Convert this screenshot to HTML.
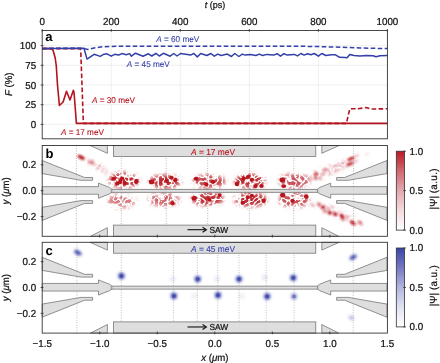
<!DOCTYPE html>
<html><head><meta charset="utf-8"><style>
html,body{margin:0;padding:0;background:#fff;width:440px;height:363px;overflow:hidden}
svg{display:block;filter:blur(0.3px)} text{text-rendering:geometricPrecision}
</style></head><body>
<svg width="440" height="363" viewBox="0 0 440 363" font-family='"Liberation Sans", sans-serif'><defs><filter id="bl1" x="-50%" y="-50%" width="200%" height="200%"><feGaussianBlur stdDeviation="0.75"/></filter><filter id="bl2" x="-50%" y="-50%" width="200%" height="200%"><feGaussianBlur stdDeviation="1.4"/></filter><filter id="bl4" x="-50%" y="-50%" width="200%" height="200%"><feGaussianBlur stdDeviation="0.9"/></filter><filter id="bl3" x="-50%" y="-50%" width="200%" height="200%"><feGaussianBlur stdDeviation="2.2"/></filter><linearGradient id="cbr" x1="0" y1="1" x2="0" y2="0"><stop offset="0" stop-color="#ffffff"/><stop offset="0.25" stop-color="#f3dadc"/><stop offset="0.5" stop-color="#e3a9ae"/><stop offset="0.75" stop-color="#d06770"/><stop offset="1" stop-color="#bb1825"/></linearGradient><linearGradient id="cbb" x1="0" y1="1" x2="0" y2="0"><stop offset="0" stop-color="#ffffff"/><stop offset="0.25" stop-color="#e0e2f2"/><stop offset="0.5" stop-color="#b2b6de"/><stop offset="0.75" stop-color="#7479c2"/><stop offset="1" stop-color="#3a44a8"/></linearGradient><filter id="env" x="-50%" y="-50%" width="200%" height="200%"><feGaussianBlur stdDeviation="2.0"/></filter><filter id="spk" x="0" y="0" width="440" height="363" filterUnits="userSpaceOnUse"><feTurbulence type="turbulence" baseFrequency="0.22" numOctaves="1" seed="4" result="t"/><feColorMatrix in="t" type="matrix" values="0 0 0 0 0  0 0 0 0 0  0 0 0 0 0  5.0 0 0 0 -0.28" result="m"/><feGaussianBlur in="m" stdDeviation="0.55" result="m2"/><feComposite in="SourceGraphic" in2="m2" operator="in"/></filter></defs><rect width="440" height="363" fill="#fff"/><line x1="111.24" y1="30.5" x2="111.24" y2="138.8" stroke="#ebebeb" stroke-width="0.8"/><line x1="180.28" y1="30.5" x2="180.28" y2="138.8" stroke="#ebebeb" stroke-width="0.8"/><line x1="249.32" y1="30.5" x2="249.32" y2="138.8" stroke="#ebebeb" stroke-width="0.8"/><line x1="318.36" y1="30.5" x2="318.36" y2="138.8" stroke="#ebebeb" stroke-width="0.8"/><line x1="42.2" y1="124.40" x2="387.4" y2="124.40" stroke="#ebebeb" stroke-width="0.8"/><line x1="42.2" y1="104.70" x2="387.4" y2="104.70" stroke="#ebebeb" stroke-width="0.8"/><line x1="42.2" y1="85.00" x2="387.4" y2="85.00" stroke="#ebebeb" stroke-width="0.8"/><line x1="42.2" y1="65.30" x2="387.4" y2="65.30" stroke="#ebebeb" stroke-width="0.8"/><line x1="42.2" y1="45.60" x2="387.4" y2="45.60" stroke="#ebebeb" stroke-width="0.8"/><polyline points="42.20,48.60 51.50,48.60 53.30,51.00 55.20,58.00 56.30,66.00 57.50,85.00 59.40,105.50 63.10,102.00 66.50,91.30 70.00,100.00 73.40,90.30 74.10,93.00 76.40,123.40 387.40,123.40" fill="none" stroke="#b3141f" stroke-width="1.6" stroke-linejoin="round"/><polyline points="42.20,48.60 80.20,48.60 80.80,52.00 83.40,123.40 346.40,123.40 349.80,108.80 358.00,108.80 366.20,107.60 371.00,109.00 387.40,108.80" fill="none" stroke="#b3141f" stroke-width="1.6" stroke-dasharray="4.6,2.4" stroke-linejoin="round"/><polyline points="42.20,48.40 84.00,48.30 87.00,59.10 94.10,54.30 100.20,56.40 104.00,54.20 107.00,53.80 111.20,56.20 114.60,54.30 118.70,55.00 122.00,53.60 126.20,54.70 129.60,53.60 131.40,56.20 135.50,53.20 143.00,56.20 148.40,53.80 151.80,56.00 155.90,53.30 159.30,56.00 163.40,53.30 170.20,56.20 173.70,53.50 177.10,56.00 180.50,53.50 187.30,54.60 190.50,55.10 193.90,53.50 197.30,56.90 200.70,53.50 206.80,55.50 210.90,53.50 214.30,56.20 217.70,54.10 221.20,55.50 227.30,54.10 231.40,56.50 234.80,53.50 238.90,56.50 242.30,54.10 245.00,55.10 250.50,54.50 255.90,55.50 259.30,54.10 262.70,55.50 266.80,54.40 273.60,55.10 277.10,53.70 280.50,56.20 283.90,53.70 287.30,55.10 294.10,54.40 297.50,55.90 300.90,53.50 304.10,55.10 307.50,53.70 310.90,54.80 314.30,53.50 318.40,56.20 321.80,53.50 325.90,55.50 331.40,54.80 335.50,54.80 339.60,57.30 345.00,57.50 347.10,57.80 349.80,54.50 353.90,55.50 360.00,55.90 366.00,55.60 373.00,55.70 376.00,56.80 380.00,55.70 387.40,55.50" fill="none" stroke="#3440a8" stroke-width="1.5" stroke-linejoin="round"/><polyline points="42.20,48.40 84.00,48.30 87.30,49.50 94.00,48.00 102.30,46.80 116.00,46.20 300.00,46.30 315.00,46.50 340.00,47.20 360.00,48.00 387.40,48.60" fill="none" stroke="#3440a8" stroke-width="1.5" stroke-dasharray="4.6,2.4"/><rect x="42.2" y="30.5" width="345.20" height="108.30" fill="none" stroke="#333" stroke-width="0.9"/><line x1="42.20" y1="29.0" x2="42.20" y2="31.7" stroke="#333" stroke-width="0.9"/><text transform="translate(42.20 24.60) scale(1 1.03)" font-size="9.8" text-anchor="middle" fill="#111" stroke="#111" stroke-width="0.22">0</text><line x1="111.24" y1="29.0" x2="111.24" y2="31.7" stroke="#333" stroke-width="0.9"/><text transform="translate(111.24 24.60) scale(1 1.03)" font-size="9.8" text-anchor="middle" fill="#111" stroke="#111" stroke-width="0.22">200</text><line x1="180.28" y1="29.0" x2="180.28" y2="31.7" stroke="#333" stroke-width="0.9"/><text transform="translate(180.28 24.60) scale(1 1.03)" font-size="9.8" text-anchor="middle" fill="#111" stroke="#111" stroke-width="0.22">400</text><line x1="249.32" y1="29.0" x2="249.32" y2="31.7" stroke="#333" stroke-width="0.9"/><text transform="translate(249.32 24.60) scale(1 1.03)" font-size="9.8" text-anchor="middle" fill="#111" stroke="#111" stroke-width="0.22">600</text><line x1="318.36" y1="29.0" x2="318.36" y2="31.7" stroke="#333" stroke-width="0.9"/><text transform="translate(318.36 24.60) scale(1 1.03)" font-size="9.8" text-anchor="middle" fill="#111" stroke="#111" stroke-width="0.22">800</text><line x1="387.40" y1="29.0" x2="387.40" y2="31.7" stroke="#333" stroke-width="0.9"/><text transform="translate(387.40 24.60) scale(1 1.03)" font-size="9.8" text-anchor="middle" fill="#111" stroke="#111" stroke-width="0.22">1000</text><line x1="40.7" y1="124.40" x2="43.400000000000006" y2="124.40" stroke="#333" stroke-width="0.9"/><text transform="translate(36.10 128.10) scale(1 1.03)" font-size="9.8" text-anchor="end" fill="#111" stroke="#111" stroke-width="0.22">0</text><line x1="40.7" y1="104.70" x2="43.400000000000006" y2="104.70" stroke="#333" stroke-width="0.9"/><text transform="translate(36.10 108.40) scale(1 1.03)" font-size="9.8" text-anchor="end" fill="#111" stroke="#111" stroke-width="0.22">25</text><line x1="40.7" y1="85.00" x2="43.400000000000006" y2="85.00" stroke="#333" stroke-width="0.9"/><text transform="translate(36.10 88.70) scale(1 1.03)" font-size="9.8" text-anchor="end" fill="#111" stroke="#111" stroke-width="0.22">50</text><line x1="40.7" y1="65.30" x2="43.400000000000006" y2="65.30" stroke="#333" stroke-width="0.9"/><text transform="translate(36.10 69.00) scale(1 1.03)" font-size="9.8" text-anchor="end" fill="#111" stroke="#111" stroke-width="0.22">75</text><line x1="40.7" y1="45.60" x2="43.400000000000006" y2="45.60" stroke="#333" stroke-width="0.9"/><text transform="translate(36.10 49.30) scale(1 1.03)" font-size="9.8" text-anchor="end" fill="#111" stroke="#111" stroke-width="0.22">100</text><text transform="translate(214.90 7.60) scale(1 1.03)" font-size="9.0" text-anchor="middle" fill="#111" stroke="#111" stroke-width="0.22"><tspan font-style="italic">t</tspan> (ps)</text><text transform="translate(12.40 84.30) rotate(-90) scale(1 1.03)" font-size="9.6" text-anchor="middle" fill="#111" stroke="#111" stroke-width="0.22"><tspan font-style="italic">F</tspan> (%)</text><text transform="translate(45.30 41.40) scale(1 1.0)" font-size="13" text-anchor="start" fill="#000" font-weight="bold">a</text><text transform="translate(156.20 42.40) scale(1 1.03)" font-size="8.2" text-anchor="start" fill="#3a44aa" stroke="#3a44aa" stroke-width="0.1"><tspan font-style="italic">A</tspan> = 60 meV</text><text transform="translate(126.80 67.40) scale(1 1.03)" font-size="8.2" text-anchor="start" fill="#3a44aa" stroke="#3a44aa" stroke-width="0.1"><tspan font-style="italic">A</tspan> = 45 meV</text><text transform="translate(92.00 102.60) scale(1 1.03)" font-size="8.2" text-anchor="start" fill="#b8141f" stroke="#b8141f" stroke-width="0.1"><tspan font-style="italic">A</tspan> = 30 meV</text><text transform="translate(60.90 135.10) scale(1 1.03)" font-size="8.2" text-anchor="start" fill="#b8141f" stroke="#b8141f" stroke-width="0.1"><tspan font-style="italic">A</tspan> = 17 meV</text><line x1="76.40" y1="145.5" x2="76.40" y2="236.3" stroke="#8c8c8c" stroke-width="0.65" stroke-dasharray="0.9,1.6"/><line x1="121.30" y1="145.5" x2="121.30" y2="236.3" stroke="#8c8c8c" stroke-width="0.65" stroke-dasharray="0.9,1.6"/><line x1="166.20" y1="145.5" x2="166.20" y2="236.3" stroke="#8c8c8c" stroke-width="0.65" stroke-dasharray="0.9,1.6"/><line x1="207.70" y1="145.5" x2="207.70" y2="236.3" stroke="#8c8c8c" stroke-width="0.65" stroke-dasharray="0.9,1.6"/><line x1="249.40" y1="145.5" x2="249.40" y2="236.3" stroke="#8c8c8c" stroke-width="0.65" stroke-dasharray="0.9,1.6"/><line x1="293.80" y1="145.5" x2="293.80" y2="236.3" stroke="#8c8c8c" stroke-width="0.65" stroke-dasharray="0.9,1.6"/><line x1="353.50" y1="145.5" x2="353.50" y2="236.3" stroke="#8c8c8c" stroke-width="0.65" stroke-dasharray="0.9,1.6"/><g filter="url(#spk)" opacity="0.9"><g filter="url(#env)" fill="#b8141f"><ellipse cx="124" cy="180" rx="15" ry="7.5" fill-opacity="1.0"/><ellipse cx="121.5" cy="201" rx="14" ry="7" fill-opacity="0.62"/><ellipse cx="165" cy="181.5" rx="16" ry="6.5" fill-opacity="1.0"/><ellipse cx="164" cy="199.5" rx="15.5" ry="6.5" fill-opacity="0.72"/><ellipse cx="209" cy="181.5" rx="16.5" ry="6.5" fill-opacity="0.9"/><ellipse cx="207.5" cy="199" rx="16" ry="6.5" fill-opacity="1.0"/><ellipse cx="250" cy="181" rx="15.5" ry="7" fill-opacity="1.0"/><ellipse cx="250.5" cy="199.5" rx="16" ry="7" fill-opacity="1.0"/><ellipse cx="294" cy="181" rx="15" ry="7" fill-opacity="0.8"/><ellipse cx="294" cy="200" rx="15" ry="7.5" fill-opacity="0.85"/><ellipse cx="328" cy="171" rx="27" ry="5.5" fill-opacity="0.2" transform="rotate(-22 328 171)"/><ellipse cx="336" cy="213" rx="27" ry="4.5" fill-opacity="0.15" transform="rotate(24 336 213)"/><ellipse cx="97" cy="166" rx="13" ry="3" fill-opacity="0.22" transform="rotate(30 97 166)"/></g></g><g filter="url(#bl4)" fill="#b8141f"><ellipse cx="81.2" cy="157.3" rx="3.96" ry="1.87" fill-opacity="1.00" transform="rotate(27 81.2 157.3)"/><ellipse cx="91.5" cy="162.5" rx="3.30" ry="1.87" fill-opacity="0.55" transform="rotate(25 91.5 162.5)"/><ellipse cx="98.8" cy="167" rx="1.32" ry="2.64" fill-opacity="0.22" transform="rotate(25 98.8 167)"/><ellipse cx="103" cy="169.4" rx="1.32" ry="2.64" fill-opacity="0.20" transform="rotate(25 103 169.4)"/><ellipse cx="106.5" cy="172" rx="1.32" ry="2.64" fill-opacity="0.18" transform="rotate(25 106.5 172)"/><ellipse cx="315.9" cy="174.3" rx="2.20" ry="1.54" fill-opacity="0.62" transform="rotate(-20 315.9 174.3)"/><ellipse cx="316.9" cy="178.4" rx="1.98" ry="1.43" fill-opacity="0.32" transform="rotate(-20 316.9 178.4)"/><ellipse cx="350.9" cy="158.8" rx="3.63" ry="1.38" fill-opacity="1.00" transform="rotate(-22 350.9 158.8)"/><ellipse cx="350.1" cy="163.9" rx="3.63" ry="1.38" fill-opacity="0.95" transform="rotate(-22 350.1 163.9)"/><ellipse cx="356.4" cy="156.0" rx="3.08" ry="1.10" fill-opacity="0.30" transform="rotate(-22 356.4 156.0)"/><ellipse cx="355.6" cy="161.5" rx="3.08" ry="1.10" fill-opacity="0.30" transform="rotate(-22 355.6 161.5)"/><ellipse cx="342.9" cy="163.1" rx="2.42" ry="1.10" fill-opacity="0.28" transform="rotate(-22 342.9 163.1)"/><ellipse cx="343.7" cy="167.9" rx="2.42" ry="1.10" fill-opacity="0.25" transform="rotate(-22 343.7 167.9)"/><ellipse cx="334.2" cy="166.3" rx="2.42" ry="1.10" fill-opacity="0.30" transform="rotate(-22 334.2 166.3)"/><ellipse cx="335.8" cy="171.8" rx="2.42" ry="1.10" fill-opacity="0.30" transform="rotate(-22 335.8 171.8)"/><ellipse cx="325.4" cy="169.5" rx="2.42" ry="1.21" fill-opacity="0.50" transform="rotate(-22 325.4 169.5)"/><ellipse cx="323.0" cy="174.2" rx="2.42" ry="1.21" fill-opacity="0.50" transform="rotate(-22 323.0 174.2)"/><ellipse cx="315.9" cy="173.4" rx="2.20" ry="1.32" fill-opacity="0.55" transform="rotate(-22 315.9 173.4)"/><ellipse cx="315.1" cy="178.2" rx="2.20" ry="1.32" fill-opacity="0.55" transform="rotate(-22 315.1 178.2)"/><ellipse cx="320.7" cy="179.0" rx="1.98" ry="1.10" fill-opacity="0.30" transform="rotate(-22 320.7 179.0)"/><ellipse cx="329.4" cy="172.6" rx="2.20" ry="1.10" fill-opacity="0.25" transform="rotate(-22 329.4 172.6)"/><ellipse cx="367" cy="154" rx="2.75" ry="1.32" fill-opacity="0.10" transform="rotate(-22 367 154)"/><ellipse cx="312.7" cy="205.2" rx="1.98" ry="1.54" fill-opacity="0.32" transform="rotate(20 312.7 205.2)"/><ellipse cx="318.9" cy="204.5" rx="2.20" ry="1.65" fill-opacity="0.62" transform="rotate(20 318.9 204.5)"/><ellipse cx="323" cy="207.3" rx="2.09" ry="1.76" fill-opacity="1.00" transform="rotate(20 323 207.3)"/><ellipse cx="325" cy="211.4" rx="1.87" ry="1.54" fill-opacity="0.62" transform="rotate(20 325 211.4)"/><ellipse cx="327.7" cy="208.6" rx="1.76" ry="1.43" fill-opacity="0.32" transform="rotate(20 327.7 208.6)"/><ellipse cx="329.8" cy="212.7" rx="2.09" ry="1.87" fill-opacity="1.00" transform="rotate(20 329.8 212.7)"/><ellipse cx="335.2" cy="214.1" rx="2.09" ry="1.87" fill-opacity="1.00" transform="rotate(20 335.2 214.1)"/><ellipse cx="332.5" cy="207.3" rx="1.76" ry="1.32" fill-opacity="0.32" transform="rotate(20 332.5 207.3)"/><ellipse cx="342.1" cy="216.1" rx="2.86" ry="1.65" fill-opacity="1.00" transform="rotate(35 342.1 216.1)"/><ellipse cx="342.7" cy="218.9" rx="2.20" ry="1.43" fill-opacity="0.62" transform="rotate(35 342.7 218.9)"/><ellipse cx="347.5" cy="217.5" rx="1.98" ry="1.32" fill-opacity="0.32" transform="rotate(30 347.5 217.5)"/><ellipse cx="352.3" cy="222.3" rx="2.64" ry="1.65" fill-opacity="1.00" transform="rotate(25 352.3 222.3)"/><ellipse cx="353.7" cy="224.3" rx="2.20" ry="1.43" fill-opacity="0.62" transform="rotate(25 353.7 224.3)"/><ellipse cx="359.8" cy="222.3" rx="2.42" ry="1.43" fill-opacity="0.62" transform="rotate(25 359.8 222.3)"/><ellipse cx="361.2" cy="224.3" rx="2.20" ry="1.32" fill-opacity="0.32" transform="rotate(25 361.2 224.3)"/></g><g filter="url(#bl1)" fill="#b8141f"><ellipse cx="113.8" cy="178.8" rx="2.30" ry="2.07" fill-opacity="1.00"/><ellipse cx="117.4" cy="183.4" rx="2.18" ry="2.18" fill-opacity="1.00"/><ellipse cx="120.4" cy="181.4" rx="1.84" ry="2.30" fill-opacity="1.00"/><ellipse cx="122" cy="178.3" rx="2.07" ry="1.72" fill-opacity="1.00"/><ellipse cx="124.5" cy="182.9" rx="2.07" ry="2.07" fill-opacity="1.00"/><ellipse cx="136.3" cy="181.4" rx="2.30" ry="2.53" fill-opacity="1.00"/><ellipse cx="151.6" cy="181.9" rx="2.76" ry="2.30" fill-opacity="1.00"/><ellipse cx="167" cy="180.8" rx="1.95" ry="2.18" fill-opacity="1.00"/><ellipse cx="171.6" cy="177.8" rx="2.07" ry="1.95" fill-opacity="1.00"/><ellipse cx="175.2" cy="180.3" rx="2.07" ry="2.18" fill-opacity="1.00"/><ellipse cx="172.6" cy="203.3" rx="2.18" ry="2.07" fill-opacity="1.00"/><ellipse cx="196.1" cy="178.8" rx="2.42" ry="1.95" fill-opacity="1.00"/><ellipse cx="206.4" cy="184.4" rx="2.07" ry="2.18" fill-opacity="1.00"/><ellipse cx="213" cy="181.9" rx="2.07" ry="2.07" fill-opacity="1.00"/><ellipse cx="194.1" cy="198.2" rx="2.64" ry="2.30" fill-opacity="1.00"/><ellipse cx="209.4" cy="199.7" rx="2.07" ry="2.07" fill-opacity="1.00"/><ellipse cx="219.7" cy="195.1" rx="2.07" ry="1.95" fill-opacity="1.00"/><ellipse cx="237" cy="183.9" rx="2.30" ry="2.30" fill-opacity="1.00"/><ellipse cx="243.7" cy="178.3" rx="2.18" ry="1.95" fill-opacity="1.00"/><ellipse cx="248.3" cy="176.8" rx="2.30" ry="1.95" fill-opacity="1.00"/><ellipse cx="251.9" cy="179.8" rx="2.18" ry="2.07" fill-opacity="1.00"/><ellipse cx="255.4" cy="186" rx="2.18" ry="1.95" fill-opacity="1.00"/><ellipse cx="261.6" cy="186" rx="2.18" ry="1.95" fill-opacity="1.00"/><ellipse cx="242.7" cy="202.8" rx="2.18" ry="2.07" fill-opacity="1.00"/><ellipse cx="247.8" cy="197.2" rx="2.07" ry="1.95" fill-opacity="1.00"/><ellipse cx="251.9" cy="195.6" rx="2.07" ry="1.95" fill-opacity="1.00"/><ellipse cx="263.6" cy="200.7" rx="2.18" ry="2.18" fill-opacity="1.00"/><ellipse cx="282.2" cy="179.9" rx="2.76" ry="2.30" fill-opacity="1.00"/><ellipse cx="283.7" cy="186.1" rx="2.53" ry="1.84" fill-opacity="1.00"/><ellipse cx="282.7" cy="195.1" rx="2.64" ry="2.30" fill-opacity="1.00"/><ellipse cx="292.4" cy="200.7" rx="2.07" ry="2.07" fill-opacity="1.00"/><ellipse cx="306.2" cy="196.6" rx="2.30" ry="2.30" fill-opacity="1.00"/></g><polygon points="42.20,160.50 84.60,177.50 92.60,177.50 92.60,180.30 81.00,180.30 42.20,173.60" fill="#d9d9d9" fill-opacity="0.88" stroke="#707070" stroke-width="0.75" stroke-linejoin="miter"/><polygon points="42.20,220.40 84.60,203.40 92.60,203.40 92.60,200.60 81.00,200.60 42.20,207.30" fill="#d9d9d9" fill-opacity="0.88" stroke="#707070" stroke-width="0.75" stroke-linejoin="miter"/><polygon points="387.00,160.50 344.60,177.50 336.60,177.50 336.60,180.30 348.20,180.30 387.00,173.60" fill="#d9d9d9" fill-opacity="0.88" stroke="#707070" stroke-width="0.75" stroke-linejoin="miter"/><polygon points="387.00,220.40 344.60,203.40 336.60,203.40 336.60,200.60 348.20,200.60 387.00,207.30" fill="#d9d9d9" fill-opacity="0.88" stroke="#707070" stroke-width="0.75" stroke-linejoin="miter"/><rect x="110" y="189.30" width="209.20" height="3.0" fill="#d9d9d9" fill-opacity="0.88" stroke="#707070" stroke-width="0.75" stroke-linejoin="miter"/><polygon points="42.20,186.65 98.50,186.65 98.50,183.15 109.60,187.45 111.80,189.30 111.80,192.30 109.60,193.85 98.50,198.25 98.50,194.25 42.20,194.25" fill="#d9d9d9" fill-opacity="0.88" stroke="#707070" stroke-width="0.75" stroke-linejoin="miter"/><polygon points="387.00,186.65 330.70,186.65 330.70,183.15 319.60,187.45 317.40,189.30 317.40,192.30 319.60,193.85 330.70,198.25 330.70,194.25 387.00,194.25" fill="#d9d9d9" fill-opacity="0.88" stroke="#707070" stroke-width="0.75" stroke-linejoin="miter"/><rect x="113.4" y="145.50" width="202.40" height="10.9" fill="#d9d9d9" fill-opacity="0.88" stroke="#707070" stroke-width="0.75" stroke-linejoin="miter"/><rect x="113.4" y="225.10" width="202.40" height="11.2" fill="#d9d9d9" fill-opacity="0.88" stroke="#707070" stroke-width="0.75" stroke-linejoin="miter"/><polygon points="90.00,145.50 107.40,145.50 107.40,153.30" fill="#d9d9d9" fill-opacity="0.88" stroke="#707070" stroke-width="0.75" stroke-linejoin="miter"/><polygon points="90.50,236.30 107.40,236.30 107.40,227.70" fill="#d9d9d9" fill-opacity="0.88" stroke="#707070" stroke-width="0.75" stroke-linejoin="miter"/><polygon points="339.20,145.50 321.80,145.50 321.80,153.30" fill="#d9d9d9" fill-opacity="0.88" stroke="#707070" stroke-width="0.75" stroke-linejoin="miter"/><polygon points="338.70,236.30 321.80,236.30 321.80,227.70" fill="#d9d9d9" fill-opacity="0.88" stroke="#707070" stroke-width="0.75" stroke-linejoin="miter"/><text transform="translate(213.00 154.80) scale(1 1.03)" font-size="8.4" text-anchor="middle" fill="#b8141f" stroke="#b8141f" stroke-width="0.1"><tspan font-style="italic">A</tspan> = 17 meV</text><line x1="187.5" y1="229.70" x2="205.8" y2="229.70" stroke="#111" stroke-width="1.1"/><polyline points="202.6,227.20 206.4,229.70 202.6,232.20" fill="none" stroke="#111" stroke-width="1.1"/><text transform="translate(209.40 232.95) scale(1 1.03)" font-size="8.4" text-anchor="start" fill="#111" stroke="#111" stroke-width="0.22">SAW</text><rect x="42.2" y="145.5" width="345.20" height="90.80" fill="none" stroke="#333" stroke-width="0.9"/><line x1="99.73" y1="234.70000000000002" x2="99.73" y2="237.5" stroke="#333" stroke-width="0.9"/><line x1="157.27" y1="234.70000000000002" x2="157.27" y2="237.5" stroke="#333" stroke-width="0.9"/><line x1="214.80" y1="234.70000000000002" x2="214.80" y2="237.5" stroke="#333" stroke-width="0.9"/><line x1="272.33" y1="234.70000000000002" x2="272.33" y2="237.5" stroke="#333" stroke-width="0.9"/><line x1="329.87" y1="234.70000000000002" x2="329.87" y2="237.5" stroke="#333" stroke-width="0.9"/><line x1="40.7" y1="164.85" x2="43.400000000000006" y2="164.85" stroke="#333" stroke-width="0.9"/><text transform="translate(36.20 168.05) scale(1 1.03)" font-size="9.8" text-anchor="end" fill="#111" stroke="#111" stroke-width="0.22">0.2</text><line x1="40.7" y1="190.70" x2="43.400000000000006" y2="190.70" stroke="#333" stroke-width="0.9"/><text transform="translate(36.20 193.90) scale(1 1.03)" font-size="9.8" text-anchor="end" fill="#111" stroke="#111" stroke-width="0.22">0.0</text><line x1="40.7" y1="216.55" x2="43.400000000000006" y2="216.55" stroke="#333" stroke-width="0.9"/><text transform="translate(36.20 219.75) scale(1 1.03)" font-size="9.8" text-anchor="end" fill="#111" stroke="#111" stroke-width="0.22">−0.2</text><text transform="translate(8.90 190.85) rotate(-90) scale(1 1.03)" font-size="9.6" text-anchor="middle" fill="#111" stroke="#111" stroke-width="0.22"><tspan font-style="italic">y</tspan> (<tspan font-style="italic">μ</tspan>m)</text><text transform="translate(45.60 157.90) scale(1 1.0)" font-size="13" text-anchor="start" fill="#000" font-weight="bold">b</text><rect x="396.3" y="151.20" width="8.2" height="78.90" fill="url(#cbr)" stroke="#333" stroke-width="0.8"/><line x1="403.2" y1="151.20" x2="406.0" y2="151.20" stroke="#333" stroke-width="0.8"/><text transform="translate(409.50 154.60) scale(1 1.03)" font-size="9.8" text-anchor="start" fill="#111" stroke="#111" stroke-width="0.22">1.0</text><line x1="403.2" y1="190.65" x2="406.0" y2="190.65" stroke="#333" stroke-width="0.8"/><text transform="translate(409.50 194.05) scale(1 1.03)" font-size="9.8" text-anchor="start" fill="#111" stroke="#111" stroke-width="0.22">0.5</text><line x1="403.2" y1="230.10" x2="406.0" y2="230.10" stroke="#333" stroke-width="0.8"/><text transform="translate(409.50 233.50) scale(1 1.03)" font-size="9.8" text-anchor="start" fill="#111" stroke="#111" stroke-width="0.22">0.0</text><text transform="translate(437.30 209.40) rotate(-90) scale(1 1.03)" font-size="9.9" text-anchor="start" fill="#111" stroke="#111" stroke-width="0.22">|Ψ| <tspan letter-spacing="0.35">(a.u.)</tspan></text><line x1="76.90" y1="242.3" x2="76.90" y2="333.1" stroke="#8c8c8c" stroke-width="0.65" stroke-dasharray="0.9,1.6"/><line x1="121.30" y1="242.3" x2="121.30" y2="333.1" stroke="#8c8c8c" stroke-width="0.65" stroke-dasharray="0.9,1.6"/><line x1="173.40" y1="242.3" x2="173.40" y2="333.1" stroke="#8c8c8c" stroke-width="0.65" stroke-dasharray="0.9,1.6"/><line x1="197.30" y1="242.3" x2="197.30" y2="333.1" stroke="#8c8c8c" stroke-width="0.65" stroke-dasharray="0.9,1.6"/><line x1="217.80" y1="242.3" x2="217.80" y2="333.1" stroke="#8c8c8c" stroke-width="0.65" stroke-dasharray="0.9,1.6"/><line x1="239.00" y1="242.3" x2="239.00" y2="333.1" stroke="#8c8c8c" stroke-width="0.65" stroke-dasharray="0.9,1.6"/><line x1="266.20" y1="242.3" x2="266.20" y2="333.1" stroke="#8c8c8c" stroke-width="0.65" stroke-dasharray="0.9,1.6"/><line x1="294.10" y1="242.3" x2="294.10" y2="333.1" stroke="#8c8c8c" stroke-width="0.65" stroke-dasharray="0.9,1.6"/><line x1="353.20" y1="242.3" x2="353.20" y2="333.1" stroke="#8c8c8c" stroke-width="0.65" stroke-dasharray="0.9,1.6"/><g filter="url(#bl2)" fill="#3a44aa"><ellipse cx="77.9" cy="252.7" rx="4.07" ry="2.03" fill-opacity="1.00" transform="rotate(30 77.9 252.7)"/><ellipse cx="77.9" cy="252.7" rx="2.78" ry="1.18" fill-opacity="0.50" transform="rotate(30 77.9 252.7)"/><ellipse cx="121.4" cy="275.9" rx="3.10" ry="3.10" fill-opacity="1.00"/><ellipse cx="173.9" cy="295.9" rx="3.10" ry="3.10" fill-opacity="1.00"/><ellipse cx="197.7" cy="279.1" rx="3.10" ry="3.10" fill-opacity="1.00"/><ellipse cx="218.0" cy="295.2" rx="3.10" ry="3.10" fill-opacity="1.00"/><ellipse cx="239.0" cy="279.0" rx="3.10" ry="3.10" fill-opacity="1.00"/><ellipse cx="267.2" cy="296.4" rx="3.10" ry="3.10" fill-opacity="1.00"/><ellipse cx="293.3" cy="277.8" rx="3.10" ry="3.10" fill-opacity="1.00"/><ellipse cx="294.0" cy="296.4" rx="2.89" ry="2.89" fill-opacity="0.65"/><ellipse cx="353.2" cy="257.2" rx="3.85" ry="2.03" fill-opacity="1.00" transform="rotate(-30 353.2 257.2)"/><ellipse cx="353.2" cy="257.2" rx="2.68" ry="1.18" fill-opacity="0.50" transform="rotate(-30 353.2 257.2)"/><ellipse cx="351.3" cy="317.7" rx="2.78" ry="1.71" fill-opacity="0.45" transform="rotate(25 351.3 317.7)"/><ellipse cx="172.7" cy="279.3" rx="2.78" ry="2.78" fill-opacity="0.12"/><ellipse cx="194.3" cy="296.0" rx="2.78" ry="2.78" fill-opacity="0.10"/><ellipse cx="217.2" cy="279.0" rx="2.78" ry="2.78" fill-opacity="0.12"/><ellipse cx="241.7" cy="296.0" rx="2.78" ry="2.78" fill-opacity="0.10"/><ellipse cx="264.9" cy="277.5" rx="2.78" ry="2.78" fill-opacity="0.14"/></g><g filter="url(#bl1)" fill="#3a44aa"><ellipse cx="121.4" cy="275.9" rx="1.90" ry="1.90" fill-opacity="0.55"/><ellipse cx="173.9" cy="295.9" rx="1.90" ry="1.90" fill-opacity="0.55"/><ellipse cx="197.7" cy="279.1" rx="1.90" ry="1.90" fill-opacity="0.55"/><ellipse cx="218.0" cy="295.2" rx="1.90" ry="1.90" fill-opacity="0.55"/><ellipse cx="239.0" cy="279.0" rx="1.90" ry="1.90" fill-opacity="0.55"/><ellipse cx="267.2" cy="296.4" rx="1.90" ry="1.90" fill-opacity="0.55"/><ellipse cx="293.3" cy="277.8" rx="1.90" ry="1.90" fill-opacity="0.55"/><ellipse cx="294.0" cy="296.4" rx="1.90" ry="1.90" fill-opacity="0.36"/></g><polygon points="42.20,257.30 84.60,274.30 92.60,274.30 92.60,277.10 81.00,277.10 42.20,270.40" fill="#d9d9d9" fill-opacity="0.88" stroke="#707070" stroke-width="0.75" stroke-linejoin="miter"/><polygon points="42.20,317.20 84.60,300.20 92.60,300.20 92.60,297.40 81.00,297.40 42.20,304.10" fill="#d9d9d9" fill-opacity="0.88" stroke="#707070" stroke-width="0.75" stroke-linejoin="miter"/><polygon points="387.00,257.30 344.60,274.30 336.60,274.30 336.60,277.10 348.20,277.10 387.00,270.40" fill="#d9d9d9" fill-opacity="0.88" stroke="#707070" stroke-width="0.75" stroke-linejoin="miter"/><polygon points="387.00,317.20 344.60,300.20 336.60,300.20 336.60,297.40 348.20,297.40 387.00,304.10" fill="#d9d9d9" fill-opacity="0.88" stroke="#707070" stroke-width="0.75" stroke-linejoin="miter"/><rect x="110" y="286.10" width="209.20" height="3.0" fill="#d9d9d9" fill-opacity="0.88" stroke="#707070" stroke-width="0.75" stroke-linejoin="miter"/><polygon points="42.20,283.45 98.50,283.45 98.50,279.95 109.60,284.25 111.80,286.10 111.80,289.10 109.60,290.65 98.50,295.05 98.50,291.05 42.20,291.05" fill="#d9d9d9" fill-opacity="0.88" stroke="#707070" stroke-width="0.75" stroke-linejoin="miter"/><polygon points="387.00,283.45 330.70,283.45 330.70,279.95 319.60,284.25 317.40,286.10 317.40,289.10 319.60,290.65 330.70,295.05 330.70,291.05 387.00,291.05" fill="#d9d9d9" fill-opacity="0.88" stroke="#707070" stroke-width="0.75" stroke-linejoin="miter"/><rect x="113.4" y="242.30" width="202.40" height="10.9" fill="#d9d9d9" fill-opacity="0.88" stroke="#707070" stroke-width="0.75" stroke-linejoin="miter"/><rect x="113.4" y="321.90" width="202.40" height="11.2" fill="#d9d9d9" fill-opacity="0.88" stroke="#707070" stroke-width="0.75" stroke-linejoin="miter"/><polygon points="90.00,242.30 107.40,242.30 107.40,250.10" fill="#d9d9d9" fill-opacity="0.88" stroke="#707070" stroke-width="0.75" stroke-linejoin="miter"/><polygon points="90.50,333.10 107.40,333.10 107.40,324.50" fill="#d9d9d9" fill-opacity="0.88" stroke="#707070" stroke-width="0.75" stroke-linejoin="miter"/><polygon points="339.20,242.30 321.80,242.30 321.80,250.10" fill="#d9d9d9" fill-opacity="0.88" stroke="#707070" stroke-width="0.75" stroke-linejoin="miter"/><polygon points="338.70,333.10 321.80,333.10 321.80,324.50" fill="#d9d9d9" fill-opacity="0.88" stroke="#707070" stroke-width="0.75" stroke-linejoin="miter"/><text transform="translate(213.00 251.60) scale(1 1.03)" font-size="8.4" text-anchor="middle" fill="#3a44aa" stroke="#3a44aa" stroke-width="0.1"><tspan font-style="italic">A</tspan> = 45 meV</text><line x1="187.5" y1="326.98" x2="205.8" y2="326.98" stroke="#111" stroke-width="1.1"/><polyline points="202.6,324.48 206.4,326.98 202.6,329.48" fill="none" stroke="#111" stroke-width="1.1"/><text transform="translate(209.40 330.23) scale(1 1.03)" font-size="8.4" text-anchor="start" fill="#111" stroke="#111" stroke-width="0.22">SAW</text><rect x="42.2" y="242.3" width="345.20" height="90.80" fill="none" stroke="#333" stroke-width="0.9"/><line x1="99.73" y1="331.5" x2="99.73" y2="334.3" stroke="#333" stroke-width="0.9"/><line x1="157.27" y1="331.5" x2="157.27" y2="334.3" stroke="#333" stroke-width="0.9"/><line x1="214.80" y1="331.5" x2="214.80" y2="334.3" stroke="#333" stroke-width="0.9"/><line x1="272.33" y1="331.5" x2="272.33" y2="334.3" stroke="#333" stroke-width="0.9"/><line x1="329.87" y1="331.5" x2="329.87" y2="334.3" stroke="#333" stroke-width="0.9"/><line x1="40.7" y1="261.65" x2="43.400000000000006" y2="261.65" stroke="#333" stroke-width="0.9"/><text transform="translate(36.20 264.85) scale(1 1.03)" font-size="9.8" text-anchor="end" fill="#111" stroke="#111" stroke-width="0.22">0.2</text><line x1="40.7" y1="287.50" x2="43.400000000000006" y2="287.50" stroke="#333" stroke-width="0.9"/><text transform="translate(36.20 290.70) scale(1 1.03)" font-size="9.8" text-anchor="end" fill="#111" stroke="#111" stroke-width="0.22">0.0</text><line x1="40.7" y1="313.35" x2="43.400000000000006" y2="313.35" stroke="#333" stroke-width="0.9"/><text transform="translate(36.20 316.55) scale(1 1.03)" font-size="9.8" text-anchor="end" fill="#111" stroke="#111" stroke-width="0.22">−0.2</text><text transform="translate(8.90 287.65) rotate(-90) scale(1 1.03)" font-size="9.6" text-anchor="middle" fill="#111" stroke="#111" stroke-width="0.22"><tspan font-style="italic">y</tspan> (<tspan font-style="italic">μ</tspan>m)</text><text transform="translate(45.60 254.70) scale(1 1.0)" font-size="13" text-anchor="start" fill="#000" font-weight="bold">c</text><rect x="396.3" y="248.00" width="8.2" height="78.90" fill="url(#cbb)" stroke="#333" stroke-width="0.8"/><line x1="403.2" y1="248.00" x2="406.0" y2="248.00" stroke="#333" stroke-width="0.8"/><text transform="translate(409.50 251.40) scale(1 1.03)" font-size="9.8" text-anchor="start" fill="#111" stroke="#111" stroke-width="0.22">1.0</text><line x1="403.2" y1="287.45" x2="406.0" y2="287.45" stroke="#333" stroke-width="0.8"/><text transform="translate(409.50 290.85) scale(1 1.03)" font-size="9.8" text-anchor="start" fill="#111" stroke="#111" stroke-width="0.22">0.5</text><line x1="403.2" y1="326.90" x2="406.0" y2="326.90" stroke="#333" stroke-width="0.8"/><text transform="translate(409.50 330.30) scale(1 1.03)" font-size="9.8" text-anchor="start" fill="#111" stroke="#111" stroke-width="0.22">0.0</text><text transform="translate(437.30 306.20) rotate(-90) scale(1 1.03)" font-size="9.9" text-anchor="start" fill="#111" stroke="#111" stroke-width="0.22">|Ψ| <tspan letter-spacing="0.35">(a.u.)</tspan></text><text transform="translate(42.20 346.80) scale(1 1.03)" font-size="9.8" text-anchor="middle" fill="#111" stroke="#111" stroke-width="0.22">−1.5</text><text transform="translate(99.73 346.80) scale(1 1.03)" font-size="9.8" text-anchor="middle" fill="#111" stroke="#111" stroke-width="0.22">−1.0</text><text transform="translate(157.27 346.80) scale(1 1.03)" font-size="9.8" text-anchor="middle" fill="#111" stroke="#111" stroke-width="0.22">−0.5</text><text transform="translate(214.80 346.80) scale(1 1.03)" font-size="9.8" text-anchor="middle" fill="#111" stroke="#111" stroke-width="0.22">0.0</text><text transform="translate(272.33 346.80) scale(1 1.03)" font-size="9.8" text-anchor="middle" fill="#111" stroke="#111" stroke-width="0.22">0.5</text><text transform="translate(329.87 346.80) scale(1 1.03)" font-size="9.8" text-anchor="middle" fill="#111" stroke="#111" stroke-width="0.22">1.0</text><text transform="translate(387.40 346.80) scale(1 1.03)" font-size="9.8" text-anchor="middle" fill="#111" stroke="#111" stroke-width="0.22">1.5</text><text transform="translate(214.80 361.10) scale(1 1.03)" font-size="9.6" text-anchor="middle" fill="#111" stroke="#111" stroke-width="0.22"><tspan font-style="italic">x</tspan> (<tspan font-style="italic">μ</tspan>m)</text></svg>
</body></html>
